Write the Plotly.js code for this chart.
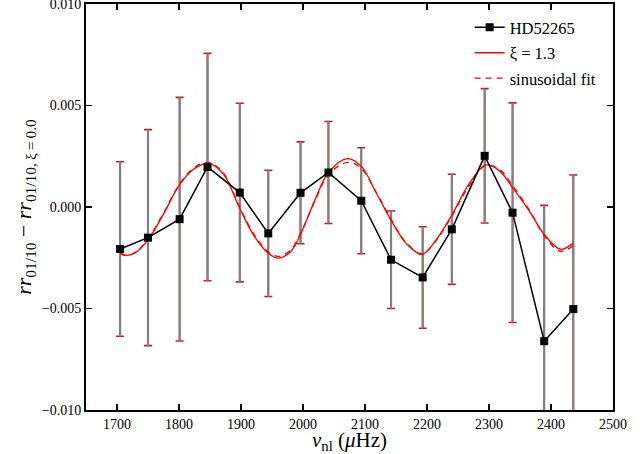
<!DOCTYPE html>
<html>
<head>
<meta charset="utf-8">
<script src="https://cdn.plot.ly/plotly-3.0.1.min.js"></script>
<style>html,body{margin:0;padding:0;background:#fff;}#chart{width:642px;height:454px;}</style>
</head>
<body>
<div id="chart"></div>
<script>
// Observed data (HD52265)
const freq = [1705, 1750, 1801, 1846, 1898, 1944, 1996, 2041, 2094, 2142, 2193, 2240, 2293, 2338, 2389, 2436];
const rrDiff = [-0.00207, -0.00151, -0.00060, 0.00197, 0.00071, -0.00130, 0.00070, 0.00170, 0.00031, -0.00260, -0.00347, -0.00110, 0.00252, -0.00028, -0.00661, -0.00503];
const rrErr = [0.00430, 0.00532, 0.00600, 0.00560, 0.00440, 0.00311, 0.00251, 0.00251, 0.00261, 0.00240, 0.00250, 0.00271, 0.00331, 0.00541, 0.00669, 0.00661];

// Model curve xi = 1.3
const modelFreq = [1705, 1715, 1730, 1750, 1775, 1800, 1823, 1847, 1871, 1897, 1920, 1944, 1960, 1980, 1996, 2020, 2041, 2072, 2094, 2118, 2142, 2166, 2192, 2214, 2240, 2268, 2295, 2317, 2338, 2365, 2389, 2415, 2436];
const xi13 = [-0.00225, -0.00238, -0.00225, -0.00162, -0.00035, 0.00105, 0.00185, 0.00215, 0.00165, 0.00000, -0.00137, -0.00228, -0.00252, -0.00220, -0.00135, 0.00040, 0.00170, 0.00238, 0.00200, 0.00070, -0.00065, -0.00178, -0.00234, -0.00165, -0.00040, 0.00115, 0.00208, 0.00178, 0.00095, -0.00020, -0.00135, -0.00208, -0.00178];
// Sinusoidal fit
const sinFit = [-0.00230, -0.00240, -0.00222, -0.00158, -0.00030, 0.00108, 0.00190, 0.00220, 0.00170, 0.00005, -0.00130, -0.00222, -0.00243, -0.00212, -0.00130, 0.00035, 0.00160, 0.00220, 0.00190, 0.00072, -0.00060, -0.00175, -0.00230, -0.00168, -0.00045, 0.00105, 0.00205, 0.00185, 0.00105, -0.00015, -0.00140, -0.00218, -0.00190];

const xTicks = [1700, 1800, 1900, 2000, 2100, 2200, 2300, 2400, 2500];
const yTicks = [-0.010, -0.005, 0.000, 0.005, 0.010];

const serif = "Liberation Serif, Times New Roman, serif";

const traces = [
  { x: freq, y: rrDiff, type: 'scatter', mode: 'markers', showlegend: false, hoverinfo: 'skip',
    marker: { opacity: 0, size: 1 },
    error_y: { type: 'data', array: rrErr, visible: true, color: '#cc1a1a', thickness: 1.6, width: 4 } },
  { x: freq, y: rrDiff, type: 'scatter', mode: 'markers', showlegend: false, hoverinfo: 'skip',
    marker: { opacity: 0, size: 1 },
    error_y: { type: 'data', array: rrErr, visible: true, color: '#808080', thickness: 2.2, width: 0 } },
  { x: modelFreq, y: xi13, type: 'scatter', mode: 'lines', name: 'ξ = 1.3', legendgroup: 'b', legendrank: 2,
    line: { color: '#ff0000', width: 1.3, shape: 'spline', smoothing: 1 } },
  { x: modelFreq, y: sinFit, type: 'scatter', mode: 'lines', name: 'sinusoidal fit', legendgroup: 'c', legendrank: 3,
    line: { color: '#ff0000', width: 1.3, dash: '6px,5px', shape: 'spline', smoothing: 1 } },
  { x: freq, y: rrDiff, type: 'scatter', mode: 'lines+markers', name: 'HD52265', legendgroup: 'a', legendrank: 1,
    line: { color: '#000000', width: 1.5 },
    marker: { symbol: 'square', size: 8, color: '#000000' } }
];

const layout = {
  width: 642, height: 454,
  margin: { l: 86, r: 29, t: 4, b: 44 },
  paper_bgcolor: '#ffffff', plot_bgcolor: '#ffffff',
  font: { family: serif, size: 14, color: '#000000' },
  showlegend: true,
  legend: { x: 0.728, y: 0.985, xanchor: 'left', yanchor: 'top', bgcolor: 'rgba(0,0,0,0)',
    font: { family: serif, size: 16.5, color: '#000' }, traceorder: 'grouped', tracegroupgap: 1, itemwidth: 30 },
  xaxis: {
    range: [1650, 2500], tickvals: xTicks, ticktext: xTicks.map(String),
    ticks: 'inside', ticklen: 6, tickwidth: 1.3, tickcolor: '#000',
    showline: true, linewidth: 2, linecolor: '#000', mirror: 'allticks',
    showgrid: false, zeroline: false, ticklabeloverflow: 'allow',
    tickfont: { family: serif, size: 14 },
    title: { text: '<i>ν</i><sub>nl</sub> (<i>μ</i>Hz)', font: { family: serif, size: 21 }, standoff: 5 }
  },
  yaxis: {
    range: [-0.010, 0.010], tickvals: yTicks, tickformat: '.3f',
    ticks: 'inside', ticklen: 6, tickwidth: 1.3, tickcolor: '#000',
    showline: true, linewidth: 2, linecolor: '#000', mirror: 'allticks',
    showgrid: false, zeroline: false, ticklabeloverflow: 'allow',
    tickfont: { family: serif, size: 14 },
    title: { text: '<i>rr</i><sub>01/10</sub>\u2005−\u2005<i>rr</i><sub>01/10,\u2009ξ\u2009=\u20090.0</sub>', font: { family: serif, size: 22 }, standoff: 4 }
  }
};

Plotly.newPlot('chart', traces, layout, { displayModeBar: false, staticPlot: true });
</script>
</body>
</html>
